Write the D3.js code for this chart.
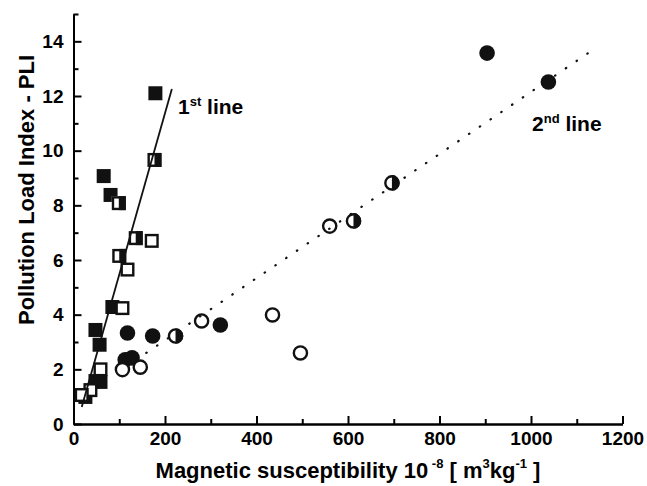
<!DOCTYPE html>
<html>
<head>
<meta charset="utf-8">
<script src="https://cdn.jsdelivr.net/npm/d3@7"></script>
<style>
  body { margin: 0; background: #fff; }
  svg { display: block; font-family: "Liberation Sans", Arial, sans-serif; font-weight: bold; }
</style>
</head>
<body>
<div id="chart"></div>
<script>
// values: [susceptibility, PLI]
const filledSquares = [[179, 12.1], [66, 9.07], [81, 8.38], [85, 4.28], [48, 3.44], [57, 2.9], [48, 1.57], [59, 1.54], [26, 0.99]];
const halfSquares = [[177, 9.66], [99, 8.08], [136, 6.8], [100, 6.15]];
const openSquares = [[171, 6.7], [118, 5.65], [107, 4.24], [59, 2.0], [37, 1.24], [18, 1.06]];
const filledCircles = [[113, 2.35], [128, 2.42], [118, 3.33], [173, 3.22], [321, 3.62], [904, 13.57], [1038, 12.51]];
const halfCircles = [[223, 3.22], [612, 7.43], [696, 8.82]];
const openCircles = [[107, 1.99], [146, 2.08], [280, 3.77], [435, 3.99], [496, 2.6], [560, 7.24]];
const line1 = [[18, 0.62], [215, 12.26]];
const line2 = [[159, 2.6], [1132, 13.65]];
const xMajor = [0, 200, 400, 600, 800, 1000, 1200];
const xMinor = [100, 300, 500, 700, 900, 1100];
const yMajor = [0, 2, 4, 6, 8, 10, 12, 14];
const yMinor = [1, 3, 5, 7, 9, 11, 13, 15];

const W = 647, H = 486;
const svg = d3.select("#chart").append("svg").attr("width", W).attr("height", H);

const x = d3.scaleLinear().domain([0, 1200]).range([73.5, 622.5]);
const y = d3.scaleLinear().domain([0, 15]).range([424, 14]);

// axes, ticks pointing inward
const styleAxis = g => {
  g.select(".domain").attr("stroke-width", 2);
  g.selectAll(".tick line").attr("stroke-width", 2);
  g.selectAll("text").style("font-size", "19px").style("font-weight", "bold").attr("fill", "#000");
};

svg.append("g").attr("transform", `translate(0,${y(0)})`)
  .call(d3.axisBottom(x).tickValues(xMajor).tickSizeInner(-8).tickSizeOuter(0).tickPadding(8).tickFormat(d3.format("d")))
  .call(styleAxis);
svg.append("g").attr("transform", `translate(0,${y(0)})`)
  .call(d3.axisBottom(x).tickValues(xMinor).tickSizeInner(-5).tickSizeOuter(0).tickFormat(""))
  .call(styleAxis);
svg.append("g").attr("transform", `translate(${x(0)},0)`)
  .call(d3.axisLeft(y).tickValues(yMajor).tickSizeInner(-8).tickSizeOuter(0).tickPadding(10).tickFormat(d3.format("d")))
  .call(styleAxis);
svg.append("g").attr("transform", `translate(${x(0)},0)`)
  .call(d3.axisLeft(y).tickValues(yMinor).tickSizeInner(-5).tickSizeOuter(0).tickFormat(""))
  .call(styleAxis);

// markers
const S = 14, R = 7.8;
const pts = svg.append("g");

pts.selectAll(".fsq").data(filledSquares).enter().append("rect")
  .attr("x", d => x(d[0]) - S / 2).attr("y", d => y(d[1]) - S / 2)
  .attr("width", S).attr("height", S).attr("fill", "#111");

const hs = pts.selectAll(".hsq").data(halfSquares).enter().append("g")
  .attr("transform", d => `translate(${x(d[0])},${y(d[1])})`);
hs.append("rect").attr("x", -S / 2).attr("y", -S / 2).attr("width", S).attr("height", S).attr("fill", "#fff");
hs.append("rect").attr("x", 0).attr("y", -S / 2).attr("width", S / 2).attr("height", S).attr("fill", "#111");
hs.append("rect").attr("x", -S / 2 + 1.2).attr("y", -S / 2 + 1.2).attr("width", S - 2.4).attr("height", S - 2.4)
  .attr("fill", "none").attr("stroke", "#111").attr("stroke-width", 2.4);

pts.selectAll(".osq").data(openSquares).enter().append("rect")
  .attr("x", d => x(d[0]) - S / 2 + 1.2).attr("y", d => y(d[1]) - S / 2 + 1.2)
  .attr("width", S - 2.4).attr("height", S - 2.4)
  .attr("fill", "#fff").attr("stroke", "#111").attr("stroke-width", 2.4);

pts.selectAll(".fci").data(filledCircles).enter().append("circle")
  .attr("cx", d => x(d[0])).attr("cy", d => y(d[1])).attr("r", R).attr("fill", "#111");

const hc = pts.selectAll(".hci").data(halfCircles).enter().append("g")
  .attr("transform", d => `translate(${x(d[0])},${y(d[1])})`);
hc.append("circle").attr("r", R - 1.2).attr("fill", "#fff");
hc.append("path").attr("d", `M0,${-R} A${R},${R} 0 0 1 0,${R} Z`).attr("fill", "#111");
hc.append("circle").attr("r", R - 1.2).attr("fill", "none").attr("stroke", "#111").attr("stroke-width", 2.4);

pts.selectAll(".oci").data(openCircles).enter().append("circle")
  .attr("cx", d => x(d[0])).attr("cy", d => y(d[1])).attr("r", R - 1.2)
  .attr("fill", "#fff").attr("stroke", "#111").attr("stroke-width", 2.4);

// fit lines
const line = d3.line().x(d => x(d[0])).y(d => y(d[1]));
svg.append("path").datum(line1).attr("d", line)
  .attr("fill", "none").attr("stroke", "#111").attr("stroke-width", 1.8);
svg.append("path").datum(line2).attr("d", line)
  .attr("fill", "none").attr("stroke", "#111").attr("stroke-width", 2.2)
  .attr("stroke-linecap", "round").attr("stroke-dasharray", "0.5,12.5");

// annotations
const lab1 = svg.append("text").attr("x", 178).attr("y", 114).style("font-size", "21px");
lab1.append("tspan").text("1");
lab1.append("tspan").attr("dy", -8).style("font-size", "13px").text("st");
lab1.append("tspan").attr("dy", 8).text(" line");

const lab2 = svg.append("text").attr("x", 532).attr("y", 131).style("font-size", "21px");
lab2.append("tspan").text("2");
lab2.append("tspan").attr("dy", -8).style("font-size", "13px").text("nd");
lab2.append("tspan").attr("dy", 8).text(" line");

// axis titles
svg.append("text")
  .attr("transform", `translate(34,${190}) rotate(-90)`)
  .attr("text-anchor", "middle")
  .style("font-size", "22px")
  .text("Pollution Load Index - PLI");

const xt = svg.append("text").attr("x", 348).attr("y", 478).attr("text-anchor", "middle").style("font-size", "22px");
xt.append("tspan").text("Magnetic susceptibility 10");
xt.append("tspan").attr("dy", -10).style("font-size", "13px").text(" -8");
xt.append("tspan").attr("dy", 10).text(" [ m");
xt.append("tspan").attr("dy", -10).style("font-size", "13px").text("3");
xt.append("tspan").attr("dy", 10).text("kg");
xt.append("tspan").attr("dy", -10).style("font-size", "13px").text("-1");
xt.append("tspan").attr("dy", 10).text(" ]");
</script>
</body>
</html>
